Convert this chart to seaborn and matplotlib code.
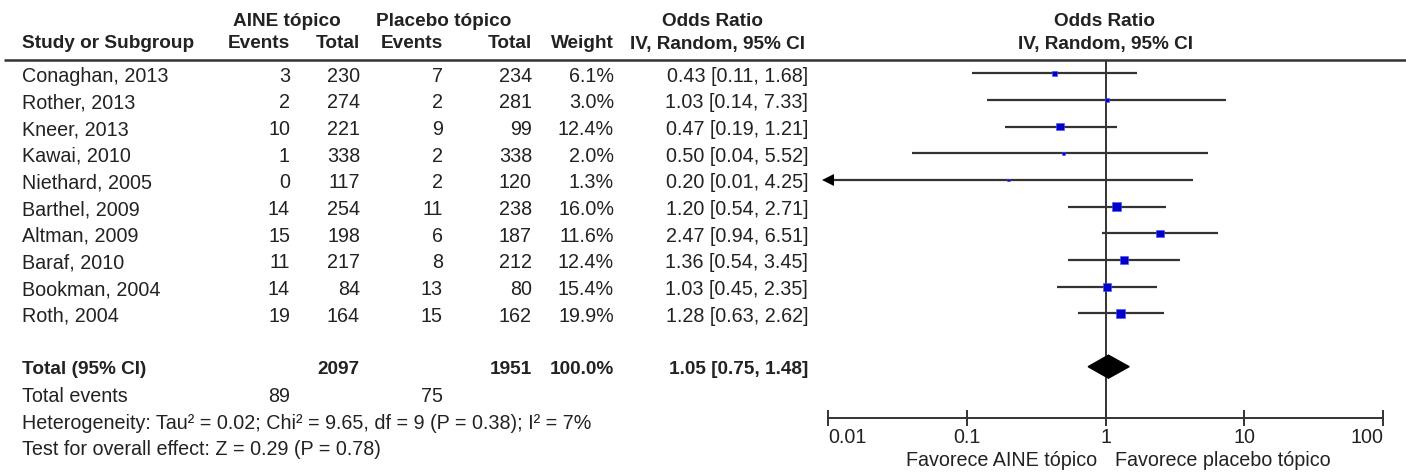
import numpy as np
import pandas as pd
import matplotlib
matplotlib.use("Agg")
import matplotlib.pyplot as plt
import seaborn as sns

# ---------------- data ----------------
studies = ["Conaghan, 2013", "Rother, 2013", "Kneer, 2013", "Kawai, 2010",
           "Niethard, 2005", "Barthel, 2009", "Altman, 2009", "Baraf, 2010",
           "Bookman, 2004", "Roth, 2004"]
aine_events = [3, 2, 10, 1, 0, 14, 15, 11, 14, 19]
aine_total = [230, 274, 221, 338, 117, 254, 198, 217, 84, 164]
plac_events = [7, 2, 9, 2, 2, 11, 6, 8, 13, 15]
plac_total = [234, 281, 99, 338, 120, 238, 187, 212, 80, 162]
weights = [6.1, 3.0, 12.4, 2.0, 1.3, 16.0, 11.6, 12.4, 15.4, 19.9]
odds_ratio = [0.43, 1.03, 0.47, 0.50, 0.20, 1.20, 2.47, 1.36, 1.03, 1.28]
ci_low = [0.11, 0.14, 0.19, 0.04, 0.01, 0.54, 0.94, 0.54, 0.45, 0.63]
ci_high = [1.68, 7.33, 1.21, 5.52, 4.25, 2.71, 6.51, 3.45, 2.35, 2.62]
total_or, total_low, total_high = 1.05, 0.75, 1.48
total_aine, total_plac = 2097, 1951
events_aine, events_plac = 89, 75
total_weight = 100.0
xticks = [0.01, 0.1, 1, 10, 100]
xtick_labels = ["0.01", "0.1", "1", "10", "100"]
heterogeneity = "Heterogeneity: Tau² = 0.02; Chi² = 9.65, df = 9 (P = 0.38); I² = 7%"
overall = "Test for overall effect: Z = 0.29 (P = 0.78)"
fav_left = "Favorece AINE tópico"
fav_right = "Favorece placebo tópico"

# ---------------- style ----------------
sns.set_style("white")
plt.rcParams["font.family"] = ["Liberation Sans", "DejaVu Sans"]
FS = 14.2      # regular text
FSB = 13.7     # bold text
TXT = "#222222"
LINE = "#333333"
BLUE = "#0000CC"

W, H = 1406, 472
fig = plt.figure(figsize=(W / 100, H / 100), dpi=100)
ax_t = fig.add_axes([0, 0, 1, 1])
ax_t.set_xlim(0, W)
ax_t.set_ylim(H, 0)
ax_t.axis("off")

# layout (pixels)
Y_H1, Y_H2, Y_LINE = 22, 44, 60
Y0, DY = 73.3, 26.67
TXT_OFF = 3
Y_AXIS = 418
X_NAME = 22
X_AE, X_AT, X_PE, X_PT, X_W, X_CI = 290, 360, 443, 532, 614, 808
X0_F, X1_F = 828, 1383


def row_y(i):
    return Y0 + DY * i


rows_y = [row_y(i) for i in range(len(studies))]
Y_TOT = row_y(len(studies) + 1)
Y_EV = row_y(len(studies) + 2)
Y_HET = row_y(len(studies) + 3)
Y_TEST = row_y(len(studies) + 4)


def txt(x, y, s, ha="left", bold=False):
    ax_t.text(x, y, s, ha=ha, va="center", fontsize=FSB if bold else FS,
              color=TXT, fontweight="bold" if bold else "normal")


# headers
txt(287, Y_H1, "AINE tópico", "center", True)
txt(444, Y_H1, "Placebo tópico", "center", True)
txt(713, Y_H1, "Odds Ratio", "center", True)
txt(1105, Y_H1, "Odds Ratio", "center", True)
txt(X_NAME, Y_H2, "Study or Subgroup", "left", True)
txt(X_AE, Y_H2, "Events", "right", True)
txt(X_AT, Y_H2, "Total", "right", True)
txt(X_PE, Y_H2, "Events", "right", True)
txt(X_PT, Y_H2, "Total", "right", True)
txt(X_W, Y_H2, "Weight", "right", True)
txt(717, Y_H2, "IV, Random, 95% CI", "center", True)
txt(1105, Y_H2, "IV, Random, 95% CI", "center", True)
ax_t.hlines(Y_LINE, 4, W, color=LINE, lw=1.8)

# study rows
for i, y in enumerate(rows_y):
    yt = y + TXT_OFF
    txt(X_NAME, yt, studies[i])
    txt(X_AE, yt, str(aine_events[i]), "right")
    txt(X_AT, yt, str(aine_total[i]), "right")
    txt(X_PE, yt, str(plac_events[i]), "right")
    txt(X_PT, yt, str(plac_total[i]), "right")
    txt(X_W, yt, f"{weights[i]:.1f}%", "right")
    txt(X_CI, yt, f"{odds_ratio[i]:.2f} [{ci_low[i]:.2f}, {ci_high[i]:.2f}]", "right")

# totals
yt = Y_TOT + TXT_OFF
txt(X_NAME, yt, "Total (95% CI)", "left", True)
txt(X_AT, yt, str(total_aine), "right", True)
txt(X_PT, yt, str(total_plac), "right", True)
txt(X_W, yt, f"{total_weight:.1f}%", "right", True)
txt(X_CI, yt, f"{total_or:.2f} [{total_low:.2f}, {total_high:.2f}]", "right", True)
txt(X_NAME, Y_EV + TXT_OFF, "Total events")
txt(X_AE, Y_EV + TXT_OFF, str(events_aine), "right")
txt(X_PE, Y_EV + TXT_OFF, str(events_plac), "right")
txt(X_NAME, Y_HET + TXT_OFF, heterogeneity)
txt(X_NAME, Y_TEST + TXT_OFF, overall)

# ---------------- forest panel ----------------
ax_f = fig.add_axes([X0_F / W, 0, (X1_F - X0_F) / W, 1])
ax_f.set_xscale("log")
ax_f.set_xlim(xticks[0], xticks[-1])
ax_f.set_ylim(H, 0)
ax_f.patch.set_alpha(0)
for side in ["top", "left", "right"]:
    ax_f.spines[side].set_visible(False)
ax_f.spines["bottom"].set_position(("data", Y_AXIS))
ax_f.spines["bottom"].set_color(LINE)
ax_f.spines["bottom"].set_linewidth(1.4)
ax_f.set_yticks([])
ax_f.set_xticks(xticks)
ax_f.set_xticklabels(xtick_labels)
ax_f.xaxis.set_minor_locator(matplotlib.ticker.NullLocator())
ax_f.tick_params(axis="x", direction="inout", length=12, width=1.4, color=LINE,
                 labelsize=FS, labelcolor=TXT, pad=1, bottom=True)
ax_f.grid(False)
tl = ax_f.get_xticklabels()
tl[0].set_horizontalalignment("left")
tl[-1].set_horizontalalignment("right")

# reference line at 1
ax_f.vlines(1, Y_LINE, Y_AXIS, color=LINE, lw=1.4)

# CIs
xmin = xticks[0]
for i, y in enumerate(rows_y):
    lo = max(ci_low[i], xmin)
    ax_f.hlines(y, lo, ci_high[i], color=LINE, lw=1.6)
    if ci_low[i] <= xmin:
        ax_f.plot([xmin], [y], marker="<", ms=8, color="black", clip_on=False,
                  markeredgewidth=0)

# squares via seaborn (area proportional to weight)
df = pd.DataFrame({"or": odds_ratio, "y": rows_y, "w": weights})
side_pt = 2.1 * np.sqrt(df["w"].to_numpy()) * 0.72
sns.scatterplot(data=df, x="or", y="y", marker="s", s=side_pt ** 2,
                color=BLUE, edgecolor="#4d4dff", linewidth=0.4, ax=ax_f,
                legend=False, zorder=3)
ax_f.set_xlabel("")
ax_f.set_ylabel("")

# diamond
ax_f.fill([total_low, total_or, total_high, total_or],
          [Y_TOT, Y_TOT - 11.5, Y_TOT, Y_TOT + 11.5], color="black", zorder=3)

# favours labels
ax_f.text(0.875, 460, fav_left, ha="right", va="center", fontsize=FS, color=TXT)
ax_f.text(1.18, 460, fav_right, ha="left", va="center", fontsize=FS, color=TXT)

fig.savefig("out.png", dpi=100)
